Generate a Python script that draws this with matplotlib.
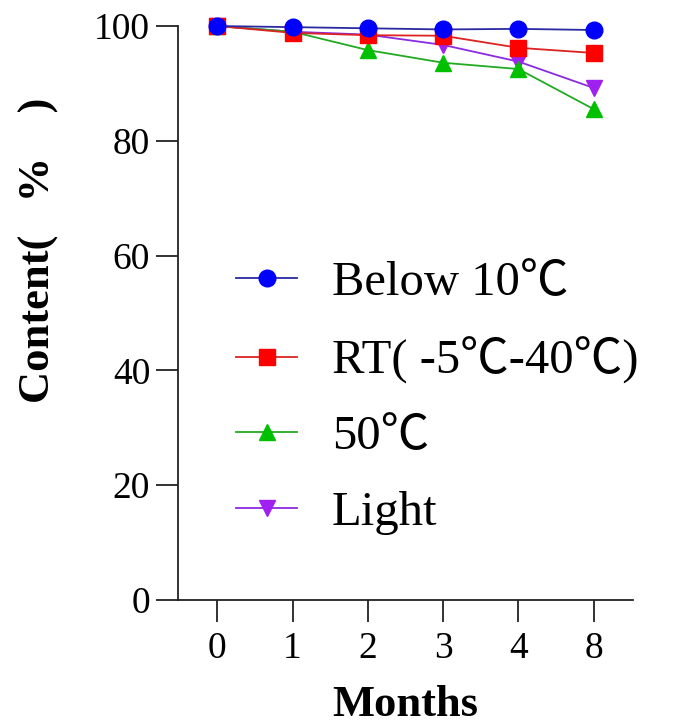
import matplotlib
matplotlib.use("Agg")
import matplotlib.pyplot as plt

months = ["0", "1", "2", "3", "4", "8"]
below10 = [100.0, 99.8, 99.6, 99.4, 99.5, 99.3]
rt = [100.0, 98.8, 98.4, 98.3, 96.2, 95.3]
c50 = [100.0, 99.0, 95.8, 93.6, 92.5, 85.5]
light = [100.0, 99.0, 98.5, 96.7, 93.8, 89.2]
yticks = [0, 20, 40, 60, 80, 100]

fams = ["Liberation Serif", "Noto Sans CJK SC", "DejaVu Sans"]
plt.rcParams["font.family"] = fams

fig = plt.figure(figsize=(6.87, 7.27), dpi=100)
ax = fig.add_axes([178/687, 127/727, 455/687, 574/727])

x = list(range(len(months)))
series = [
    (light, "Light", "v", "#a020f0", "#8a2be2", 12),
    (c50, "50℃", "^", "#00c000", "#22aa22", 12),
    (rt, "RT( -5℃-40℃)", "s", "#ff0000", "#dd2222", 11),
    (below10, "Below 10℃", "o", "#0000ff", "#2a2aa0", 12),
]
handles = {}
for vals, lab, mk, mc, lc, ms in series:
    h, = ax.plot(x, vals, marker=mk, color=lc, markerfacecolor=mc,
                 markeredgecolor=mc, markersize=ms, linewidth=1.3,
                 label=lab, clip_on=False)
    handles[lab] = h

order = ["Below 10℃", "RT( -5℃-40℃)", "50℃", "Light"]
leg = ax.legend([handles[k] for k in order], order, loc="upper left",
                bbox_to_anchor=(0.128, 0.590), frameon=False, fontsize=35,
                handlelength=1.25, handletextpad=0.72, labelspacing=0.645,
                borderpad=0, borderaxespad=0)

ax.set_xlim(-0.52, 5.52)
ax.set_ylim(0, 100)
ax.set_xticks(x)
ax.set_xticklabels(months)
ax.set_yticks(yticks)
for s in ["top", "right"]:
    ax.spines[s].set_visible(False)
for s in ["left", "bottom"]:
    ax.spines[s].set_linewidth(1.3)
    ax.spines[s].set_color("#222222")
ax.tick_params(axis="both", labelsize=27, width=1.3, length=16, color="#222222", pad=4)
ax.tick_params(axis="x", pad=7)

ax.set_xlabel("Months", fontsize=32, fontweight="bold", labelpad=13)
ax.set_ylabel("Content(   %    )", fontsize=32, fontweight="bold")
ax.yaxis.set_label_coords(-0.262, 0.61)

fig.savefig("out.png", dpi=100)
